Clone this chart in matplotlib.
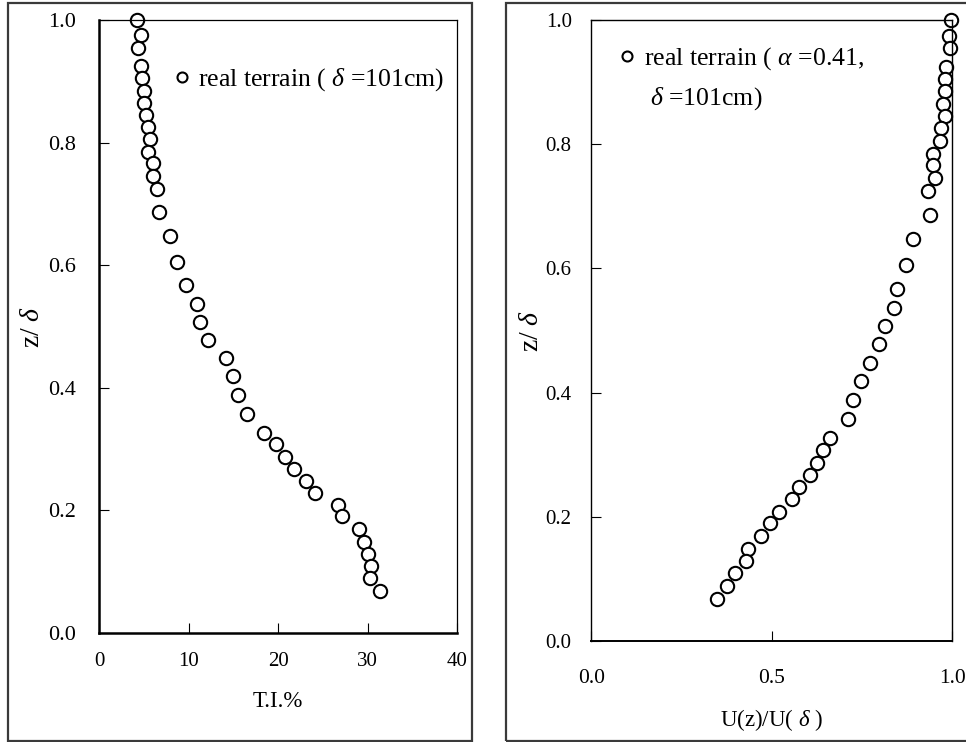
import matplotlib
matplotlib.use("Agg")
from matplotlib import pyplot as plt
from matplotlib.patches import Rectangle

# z / delta heights shared by both profiles
z_ratio = [1.000, 0.975, 0.955, 0.925, 0.905, 0.885, 0.864, 0.845, 0.826, 0.806,
           0.785, 0.766, 0.746, 0.725, 0.686, 0.647, 0.606, 0.567, 0.537, 0.507,
           0.478, 0.448, 0.419, 0.388, 0.357, 0.327, 0.308, 0.287, 0.268, 0.248,
           0.228, 0.208, 0.190, 0.169, 0.148, 0.129, 0.109, 0.089, 0.068]

# turbulence intensity (%)
ti_pct = [4.2, 4.6, 4.3, 4.6, 4.8, 5.0, 5.0, 5.2, 5.4, 5.6,
          5.4, 6.0, 6.0, 6.4, 6.7, 7.9, 8.7, 9.7, 10.9, 11.3,
          12.1, 14.2, 14.9, 15.5, 16.5, 18.4, 19.8, 20.8, 21.8, 23.1,
          24.1, 26.7, 27.1, 29.0, 29.6, 30.1, 30.4, 30.3, 31.4]

# U(z)/U(delta)
u_ratio = [0.997, 0.991, 0.993, 0.982, 0.978, 0.978, 0.974, 0.979, 0.969, 0.965,
           0.946, 0.946, 0.952, 0.931, 0.937, 0.891, 0.872, 0.846, 0.838, 0.812,
           0.796, 0.771, 0.746, 0.726, 0.712, 0.661, 0.641, 0.625, 0.606, 0.575,
           0.556, 0.520, 0.495, 0.470, 0.434, 0.429, 0.399, 0.375, 0.349]

plt.rcParams['font.family'] = ['Liberation Serif', 'DejaVu Serif']
plt.rcParams['mathtext.fontset'] = 'custom'
plt.rcParams['mathtext.rm'] = 'Liberation Serif'
plt.rcParams['mathtext.it'] = 'Liberation Serif:italic'

fig = plt.figure(figsize=(9.66, 7.42), dpi=100)

# outer frames around each panel
fig.patches.append(Rectangle((0.0078, 0.0015), 0.4808, 0.9945, transform=fig.transFigure,
                             fill=False, lw=1.6, ec="#3a3a3a"))
fig.patches.append(Rectangle((0.5238, 0.0015), 0.55, 0.9945, transform=fig.transFigure,
                             fill=False, lw=1.6, ec="#3a3a3a"))

ax1 = fig.add_axes([0.103, 0.147, 0.370, 0.826])
ax2 = fig.add_axes([0.612, 0.136, 0.374, 0.837])

mk = dict(ls="none", marker="o", ms=9.6, mfc="white", mec="black", mew=1.5, clip_on=False)

ax1.plot(ti_pct, z_ratio, label="real terrain ( $\\delta$ =101cm)", **mk)
ax1.set_xlim(0, 40)
ax1.set_ylim(0, 1.0)
ax1.set_xticks([0, 10, 20, 30, 40])
ax1.set_xticklabels(["0", "10", "20", "30", "40"])
ax1.set_yticks([0, 0.2, 0.4, 0.6, 0.8, 1.0])
ax1.set_yticklabels(["0.0", "0.2", "0.4", "0.6", "0.8", "1.0"])
ax1.tick_params(axis="x", direction="in", length=7, pad=14, labelsize=15)
ax1.tick_params(axis="y", direction="in", length=7, pad=17, labelsize=16)
ax1.set_xlabel("T.I.%", fontsize=16.5, labelpad=14)
ax1.set_ylabel("z/ $\\delta$", fontsize=20, labelpad=2)
for s in ["left", "bottom"]:
    ax1.spines[s].set_linewidth(1.8)
for s in ["top", "right"]:
    ax1.spines[s].set_linewidth(0.9)
ax1.legend(loc="upper left", bbox_to_anchor=(0.172, 0.945), frameon=False, fontsize=18.5,
           handlelength=0.6, handletextpad=0.35, borderpad=0, markerscale=0.75)

ax2.plot(u_ratio, z_ratio, label="real terrain ( $\\alpha$ =0.41,", **mk)
ax2.text(0.162, 0.873, "$\\delta$ =101cm)", transform=ax2.transAxes, fontsize=18.5,
         va="center", ha="left")
ax2.set_xlim(0, 1.0)
ax2.set_ylim(0, 1.0)
ax2.set_xticks([0, 0.5, 1.0])
ax2.set_xticklabels(["0.0", "0.5", "1.0"])
ax2.set_yticks([0, 0.2, 0.4, 0.6, 0.8, 1.0])
ax2.set_yticklabels(["0.0", "0.2", "0.4", "0.6", "0.8", "1.0"])
ax2.tick_params(axis="x", direction="in", length=7, pad=20, labelsize=15.5)
ax2.tick_params(axis="y", direction="in", length=7, pad=14, labelsize=15)
ax2.set_xlabel("U(z)/U( $\\delta$ )", fontsize=16.5, labelpad=14)
ax2.set_ylabel("z/ $\\delta$", fontsize=20, labelpad=1)
for s in ax2.spines.values():
    s.set_linewidth(1.0)
ax2.spines["bottom"].set_linewidth(1.4)
ax2.legend(loc="upper left", bbox_to_anchor=(0.042, 0.98), frameon=False, fontsize=18.5,
           handlelength=0.6, handletextpad=0.35, borderpad=0, markerscale=0.75)

fig.savefig("out.png", dpi=100)
